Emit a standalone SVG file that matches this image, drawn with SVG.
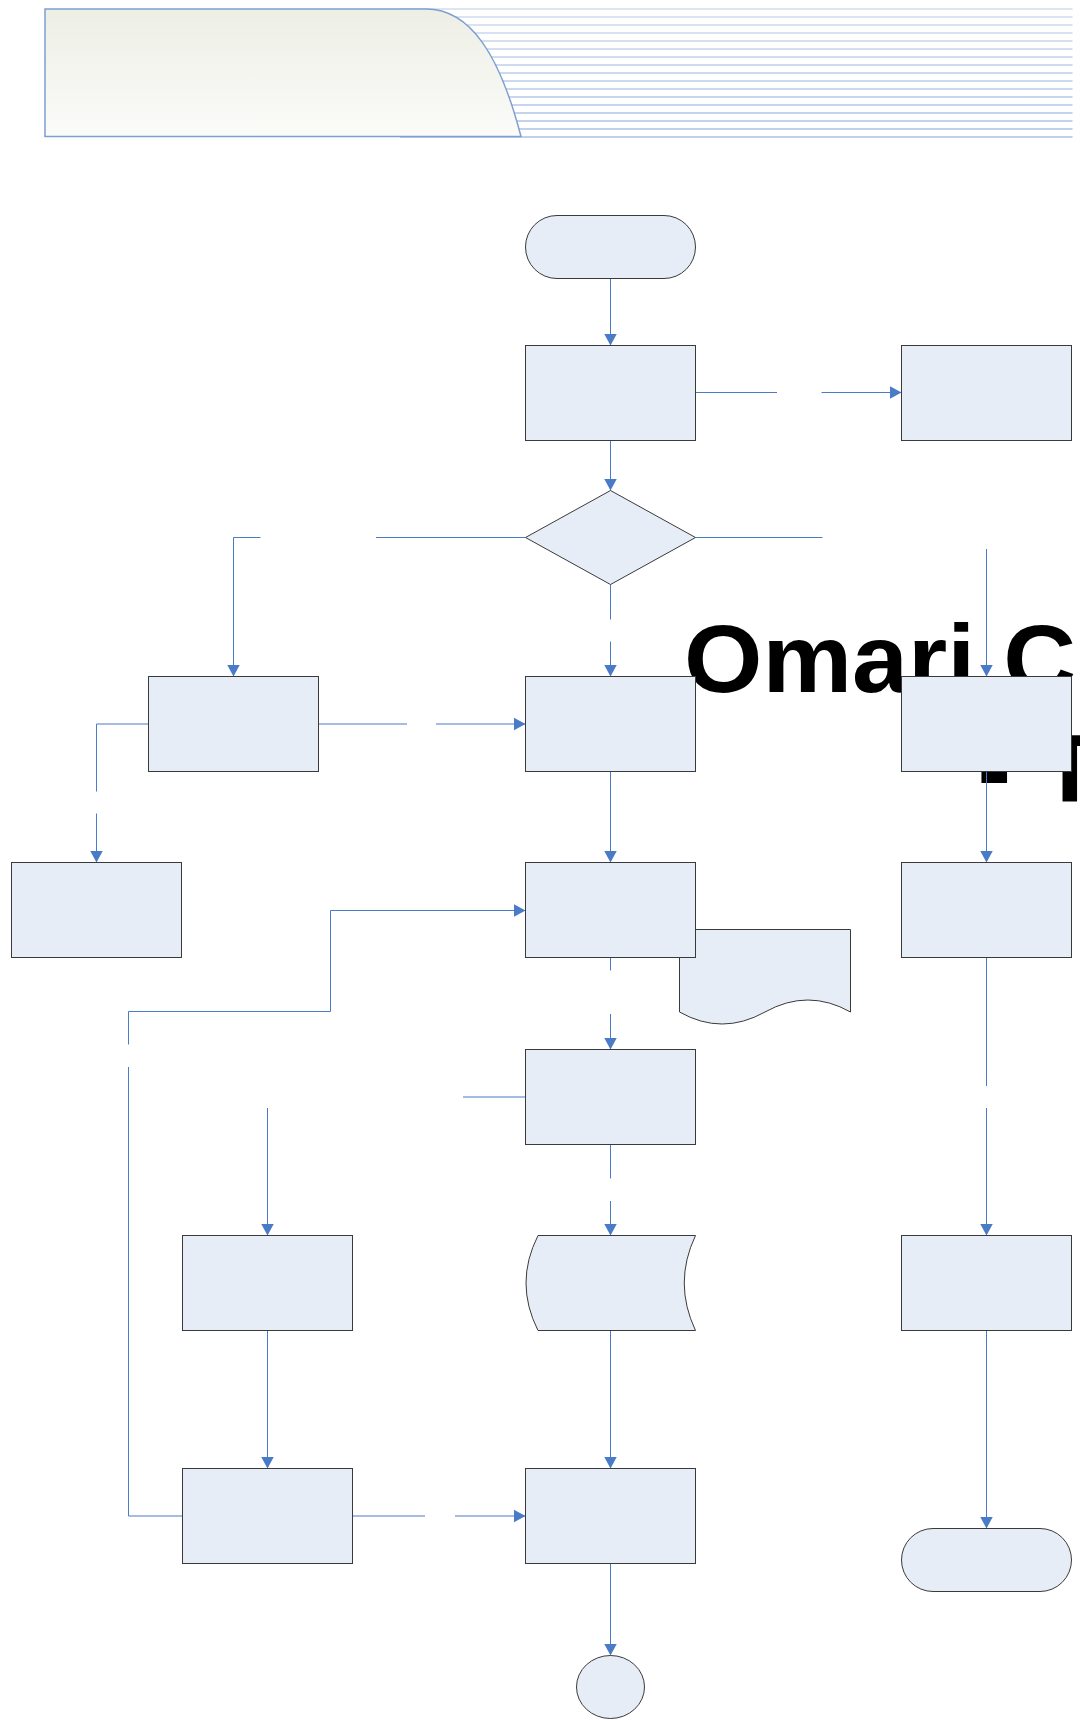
<svg xmlns="http://www.w3.org/2000/svg" width="1080" height="1720" viewBox="0 0 1080 1720">
  <defs>
    <linearGradient id="hdrFill" x1="0" y1="0" x2="0" y2="1">
      <stop offset="0" stop-color="#edefe5"/>
      <stop offset="1" stop-color="#fbfbf9"/>
    </linearGradient>
    <linearGradient id="hdrLines" gradientUnits="userSpaceOnUse" x1="0" y1="9" x2="0" y2="137">
      <stop offset="0" stop-color="#b9cbe6"/>
      <stop offset="1" stop-color="#7fa1d5"/>
    </linearGradient>
    <marker id="arrow" markerUnits="userSpaceOnUse" markerWidth="12" markerHeight="13" refX="12" refY="6.5" orient="auto">
      <path d="M0,0 L12,6.5 L0,13 Z" fill="#4a7bc6"/>
    </marker>
  </defs>
  <style>
    .node { fill: #e6edf7; stroke: #3a3a3a; stroke-width: 1; }
    .conn { fill: none; stroke: #4a7bc6; stroke-width: 1; }
    .arr { marker-end: url(#arrow); }
    .title { font-family: "Liberation Sans", Arial, sans-serif; font-weight: bold; font-size: 96px; fill: #000; }
  </style>

  <!-- page header band -->
  <g id="header">
    <path d="M400,9H1072.5M400,17H1072.5M400,25H1072.5M400,33H1072.5M400,41H1072.5M400,49H1072.5M400,57H1072.5M400,65H1072.5M400,73H1072.5M400,81H1072.5M400,89H1072.5M400,97H1072.5M400,105H1072.5M400,113H1072.5M400,121H1072.5M400,129H1072.5M400,137H1072.5" fill="none" stroke="url(#hdrLines)" stroke-width="1.2"/>
    <path d="M45,9 H426 C471,9 500,56 521,136.5 H45 Z" fill="url(#hdrFill)" stroke="#7e9ed2" stroke-width="1.5"/>
  </g>

  <!-- title -->
  <g id="title">
    <text class="title" transform="translate(684,691.5) scale(1.05,1)">Omari C</text>
    <text class="title" transform="translate(977.5,802) scale(1.05,1)">- T</text>
  </g>

  <!-- connectors -->
  <g id="connectors">
    <path class="conn arr" d="M610.5,278.5 V345.5"/>
    <path class="conn" d="M695.5,392.5 H777"/>
    <path class="conn arr" d="M821.5,392.5 H901.5"/>
    <path class="conn arr" d="M610.5,440.5 V490.5"/>
    <path class="conn" d="M525.5,537.5 H376"/>
    <path class="conn arr" d="M260.5,537.5 H233.5 V676.5"/>
    <path class="conn" d="M695.5,537.5 H822.5"/>
    <path class="conn arr" d="M986.5,549 V676.5"/>
    <path class="conn" d="M610.5,584.5 V619.5"/>
    <path class="conn arr" d="M610.5,641.5 V676.5"/>
    <path class="conn" d="M318.5,724 H407"/>
    <path class="conn arr" d="M436,724 H525.5"/>
    <path class="conn" d="M148.5,724 H96.5 V791.5"/>
    <path class="conn arr" d="M96.5,813.5 V862.5"/>
    <path class="conn arr" d="M610.5,771.5 V862.5"/>
    <path class="conn arr" d="M986.5,771.5 V862.5"/>
    <path class="conn" d="M610.5,957.5 V970.5"/>
    <path class="conn arr" d="M610.5,1014 V1049.5"/>
    <path class="conn" d="M986.5,957.5 V1086"/>
    <path class="conn arr" d="M986.5,1108 V1235.5"/>
    <path class="conn" d="M610.5,1144.5 V1178.5"/>
    <path class="conn arr" d="M610.5,1201 V1235.5"/>
    <path class="conn" d="M525.5,1097 H463"/>
    <path class="conn arr" d="M267.5,1108 V1235.5"/>
    <path class="conn arr" d="M267.5,1330.5 V1468.5"/>
    <path class="conn arr" d="M610.5,1330.5 V1468.5"/>
    <path class="conn arr" d="M986.5,1330.5 V1528.5"/>
    <path class="conn" d="M352.5,1516 H425"/>
    <path class="conn arr" d="M455,1516 H525.5"/>
    <path class="conn arr" d="M610.5,1563.5 V1655.5"/>
    <path class="conn" d="M182.5,1516 H128.5 V1067"/>
    <path class="conn arr" d="M128.5,1044.5 V1011.5 H330.5 V910.5 H525.5"/>
  </g>

  <!-- nodes -->
  <g id="start"><rect class="node" x="525.5" y="215.5" width="170" height="63" rx="31.5" ry="31.5"/></g>
  <g id="step1"><rect class="node" x="525.5" y="345.5" width="170" height="95"/></g>
  <g id="side1"><rect class="node" x="901.5" y="345.5" width="170" height="95"/></g>
  <g id="decision"><path class="node" d="M610.5,490.5 L695.5,537.5 L610.5,584.5 L525.5,537.5 Z"/></g>
  <g id="left3"><rect class="node" x="148.5" y="676.5" width="170" height="95"/></g>
  <g id="mid3"><rect class="node" x="525.5" y="676.5" width="170" height="95"/></g>
  <g id="right3"><rect class="node" x="901.5" y="676.5" width="170" height="95"/></g>
  <g id="farleft4"><rect class="node" x="11.5" y="862.5" width="170" height="95"/></g>
  <g id="document"><path class="node" d="M679.5,929.5 H850.5 V1012 Q808,988 765,1012 T679.5,1012 Z"/></g>
  <g id="mid4"><rect class="node" x="525.5" y="862.5" width="170" height="95"/></g>
  <g id="right4"><rect class="node" x="901.5" y="862.5" width="170" height="95"/></g>
  <g id="mid5"><rect class="node" x="525.5" y="1049.5" width="170" height="95"/></g>
  <g id="left6"><rect class="node" x="182.5" y="1235.5" width="170" height="95"/></g>
  <g id="stored"><path class="node" d="M538,1235.5 H695.5 Q673,1283 695.5,1330.5 H538 Q514,1283 538,1235.5 Z"/></g>
  <g id="right6"><rect class="node" x="901.5" y="1235.5" width="170" height="95"/></g>
  <g id="left7"><rect class="node" x="182.5" y="1468.5" width="170" height="95"/></g>
  <g id="mid7"><rect class="node" x="525.5" y="1468.5" width="170" height="95"/></g>
  <g id="end"><rect class="node" x="901.5" y="1528.5" width="170" height="63" rx="31.5" ry="31.5"/></g>
  <g id="connector-circle"><ellipse class="node" cx="610.5" cy="1687" rx="34" ry="31.5"/></g>
</svg>
